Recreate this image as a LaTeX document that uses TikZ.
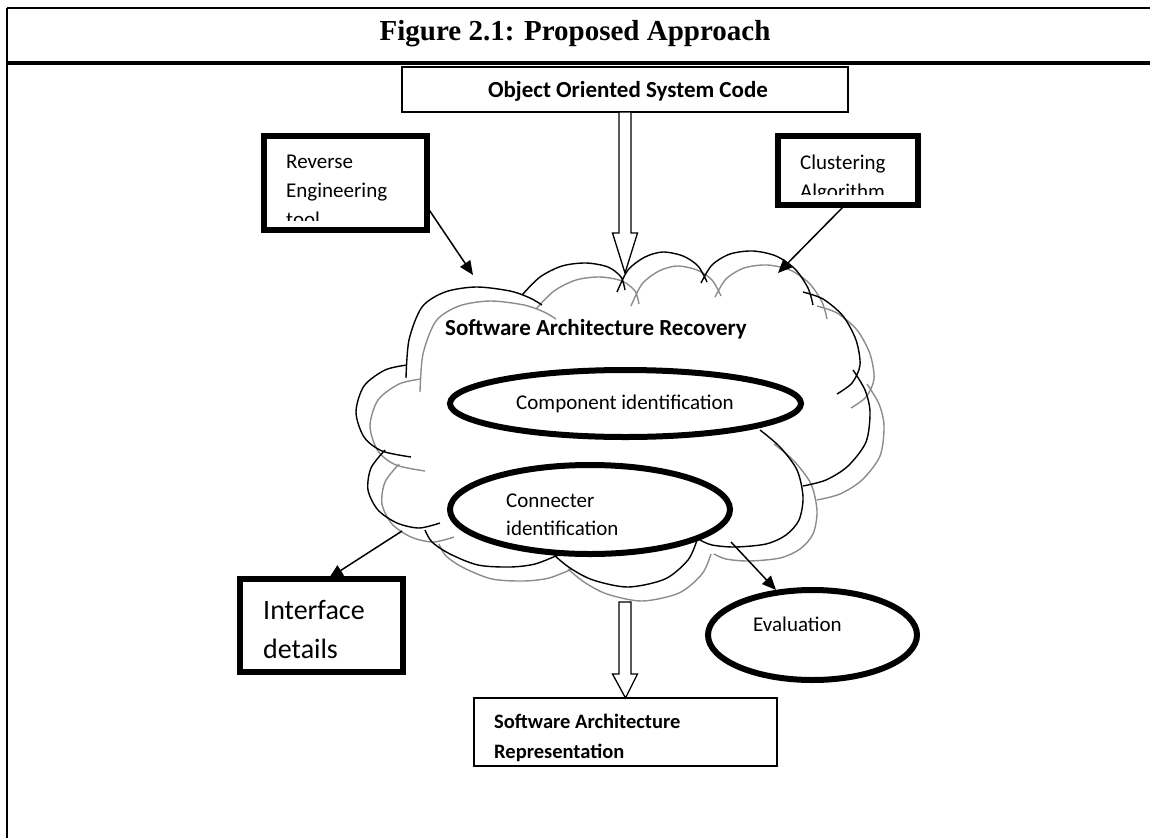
\documentclass[tikz,border=0pt]{standalone}
\usepackage{fontspec}
\setmainfont{Liberation Serif}
\newfontfamily\calibri{Carlito}
\usetikzlibrary{arrows.meta,calc,shapes.geometric}

% outline of the cloud: one smooth arc per bump, the ends overlapping a little
\newcommand\cloudbumps{%
  plot[smooth] coordinates {(406,378) (409,340) (422,307) (445,292) (476,287) (510,291) (530,298) (542,305)}
  plot[smooth] coordinates {(522,295) (540,277) (562,266) (586,263) (608,267) (621,277) (625,290)}
  plot[smooth] coordinates {(617,292) (628,270) (645,257) (663,252) (683,256) (698,266) (707,282)}
  plot[smooth] coordinates {(701,283) (712,265) (730,254) (753,251) (776,256) (795,269) (808,288) (813,305)}
  plot[smooth] coordinates {(803,292) (823,299) (843,316) (856,340) (860,365) (852,383) (837,394)}
  plot[smooth] coordinates {(853,370) (865,390) (870,412) (866,442) (848,466) (826,480) (803,486)}
  plot[smooth] coordinates {(760,430) (780,447) (797,470) (803,497) (799,520) (786,535) (766,544) (735,547) (712,545) (700,540)}
  plot[smooth] coordinates {(697,540) (688,560) (665,579) (628,587) (593,580) (570,568) (554,555)}
  plot[smooth] coordinates {(558,555) (535,564) (510,567) (478,565) (450,554) (432,542) (425,530)}
  plot[smooth] coordinates {(385,450) (371,468) (368,490) (378,510) (397,523) (419,528) (440,523)}
  plot[smooth] coordinates {(407,365) (385,370) (364,386) (356,412) (364,437) (382,451) (411,457)}
}

\begin{document}
\begin{tikzpicture}[x=1pt,y=-1pt,
  frameline/.style={line width=2pt},
  plainbox/.style={draw, line width=1.8pt, fill=white, outer sep=0pt, inner sep=0pt},
  heavybox/.style={draw, line width=6pt, fill=white, outer sep=0pt, inner sep=0pt},
  heavyoval/.style={draw, ellipse, line width=6pt, fill=white, outer sep=0pt, inner sep=0pt},
  cloudline/.style={line width=1.4pt, black},
  cloudshade/.style={line width=1.4pt, black!45},
  txt/.style={inner sep=0pt, font=\calibri\fontsize{21}{29}\selectfont},
  boldtxt/.style={inner sep=0pt, font=\calibri\bfseries\fontsize{23}{30}\selectfont},
  pointer/.style={line width=1.5pt, -{Triangle[length=14pt,width=12pt]}},
  block arrow/.style={draw, fill=white, line width=1.3pt,
    to path={let \p1=(\tikztostart), \p2=(\tikztotarget) in
      (\x1-6pt,\y1) -- (\x1-6pt,\y2+#1) -- (\x1-12.5pt,\y2+#1) -- (\x2,\y2)
      -- (\x1+12.5pt,\y2+#1) -- (\x1+6pt,\y2+#1) -- (\x1+6pt,\y1) -- cycle}},
]
\useasboundingbox (0,0) rectangle (1150,838);

% table frame and caption row
\draw[frameline] (7,8) -- (1150,8);
\draw[frameline] (7,8) -- (7,838);
\draw[line width=3.5pt] (7,63) -- (1150,63);
\node[inner sep=0pt, anchor=base, font=\bfseries\fontsize{29}{34}\selectfont] (title) at (575,40) {Figure 2.1: Proposed Approach};

% input box
\node[plainbox, minimum width=446pt, minimum height=45pt] (obj) at (625,89.5) {};
\node[boldtxt, anchor=base] (objtext) at (628,97) {Object Oriented System Code};

% tool boxes (text clipped by the box)
\node[heavybox, minimum width=163pt, minimum height=94pt] (re) at (345.5,183) {};
\begin{scope}
  \clip (267,139) rectangle (424,220);
  \node[txt, anchor=north west, align=left] (retext) at (286,152.6) {\rule{0pt}{16pt}Reverse\\Engineering\\tool};
\end{scope}

\node[heavybox, minimum width=140pt, minimum height=69pt] (cl) at (848,170.5) {};
\begin{scope}
  \clip (781,139) rectangle (915,194);
  \node[txt, anchor=north west, align=left] (cltext) at (800,153) {\rule{0pt}{16pt}Clustering\\Algorithm};
\end{scope}

% the cloud: grey shadow first, black outline on top
\draw[cloudshade, shift={(14,14)}] \cloudbumps;
\draw[cloudline] \cloudbumps;
\coordinate (cloudN)  at (625,273);
\coordinate (cloudNW) at (473,275);
\coordinate (cloudNE) at (778,273);
\coordinate (cloudSW) at (402,531);
\coordinate (cloudSE) at (731,542);
\coordinate (cloudS)  at (625,602);

\node[inner sep=0pt, anchor=base, font=\calibri\bfseries\fontsize{23}{30}\selectfont] (sar) at (596,335) {Software Architecture Recovery};

% activities inside the cloud
\node[heavyoval, minimum width=351pt, minimum height=67pt] (comp) at (625.5,403.5) {};
\node[txt, anchor=base] (comptext) at (625,409) {Component identification};

\node[heavyoval, minimum width=280pt, minimum height=89pt] (conn) at (590,509.5) {};
\node[txt, anchor=north west, align=left, font=\calibri\fontsize{21}{28}\selectfont] (conntext) at (506,491) {\rule{0pt}{16pt}Connecter\\identification};

% outputs
\node[heavybox, minimum width=163pt, minimum height=93pt] (ifc) at (321.5,625.5) {};
\node[txt, anchor=north west, align=left, font=\calibri\fontsize{28}{39}\selectfont] (ifctext) at (263,597) {\rule{0pt}{22pt}Interface\\details};

\node[heavyoval, minimum width=209pt, minimum height=90pt] (eval) at (812.5,635) {};
\node[txt, anchor=base west] (evaltext) at (753,631) {Evaluation};

\node[plainbox, minimum width=303pt, minimum height=68pt] (rep) at (625.5,732) {};
\begin{scope}
  \clip (476,700) rectangle (775,764.5);
  \node[inner sep=0pt, anchor=north west, align=left, font=\calibri\bfseries\fontsize{20.5}{30}\selectfont] (reptext) at (494,712) {\rule{0pt}{16pt}Software Architecture\\Representation};
\end{scope}

% connectors
\draw[block arrow=40pt] (obj.south) to (cloudN);
\draw[block arrow=24pt] (cloudS) to (rep.north);
\draw[pointer] ($(re.south east)+(1.5,-21)$) -- (cloudNW);
\draw[pointer] ($(cl.south)+(-3,0)$) -- (cloudNE);
\draw[pointer] (cloudSW) -- ($(ifc.north)+(7.5,-1)$);
\draw[pointer] (cloudSE) -- ($(eval.north)+(-36.5,0)$);
\end{tikzpicture}
\end{document}
